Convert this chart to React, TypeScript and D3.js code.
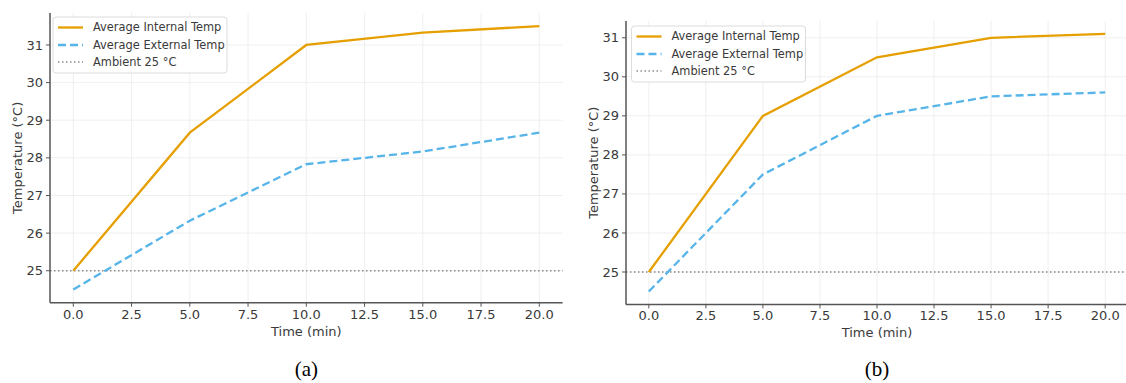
import * as d3 from "d3";

// time points (min)
const times = [0, 5, 10, 15, 20];

// panel (a)
const internalA = [25.0, 28.67, 31.0, 31.33, 31.5];
const externalA = [24.5, 26.33, 27.83, 28.17, 28.67];

// panel (b)
const internalB = [25.0, 29.0, 30.5, 31.0, 31.1];
const externalB = [24.5, 27.5, 29.0, 29.5, 29.6];

const ambient = 25;
const xTicks = [0, 2.5, 5, 7.5, 10, 12.5, 15, 17.5, 20];
const yTicks = [25, 26, 27, 28, 29, 30, 31];
const legendLabels = ["Average Internal Temp", "Average External Temp", "Ambient 25 °C"];

const ORANGE = "#E69F00";
const BLUE = "#56B4E9";
const FONT = "DejaVu Sans, sans-serif";

type PanelProps = {
  left: number;
  top: number;
  width: number;
  height: number;
  internal: number[];
  external: number[];
  caption: string;
  legendDx: number;
  legendDy: number;
};

function Panel({ left, top, width, height, internal, external, caption, legendDx, legendDy }: PanelProps) {
  // matplotlib-style 5% margins
  const [xmin, xmax] = d3.extent(times) as [number, number];
  const xpad = (xmax - xmin) * 0.05;
  const [ymin, ymax] = d3.extent([...internal, ...external]) as [number, number];
  const ypad = (ymax - ymin) * 0.05;

  const x = d3.scaleLinear().domain([xmin - xpad, xmax + xpad]).range([0, width]);
  const y = d3.scaleLinear().domain([ymin - ypad, ymax + ypad]).range([height, 0]);

  const line = d3
    .line<number>()
    .x((_, i) => x(times[i]))
    .y((d) => y(d));

  const rows = [10.5, 28, 45];

  return (
    <g transform={`translate(${left},${top})`}>
      {/* grid */}
      {xTicks.map((t) => (
        <line key={`gx${t}`} x1={x(t)} x2={x(t)} y1={0} y2={height} stroke="#ebebeb" strokeWidth={0.8} />
      ))}
      {yTicks.map((t) => (
        <line key={`gy${t}`} x1={0} x2={width} y1={y(t)} y2={y(t)} stroke="#ebebeb" strokeWidth={0.8} />
      ))}

      {/* ambient */}
      <line
        x1={0}
        x2={width}
        y1={y(ambient)}
        y2={y(ambient)}
        stroke="#8a8a8a"
        strokeWidth={1.5}
        strokeDasharray="1.5,2.5"
      />

      <path d={line(external) || ""} fill="none" stroke={BLUE} strokeWidth={2.3} strokeDasharray="8,4" />
      <path d={line(internal) || ""} fill="none" stroke={ORANGE} strokeWidth={2.3} />

      {/* spines */}
      <line x1={0} x2={0} y1={0} y2={height} stroke="#555" strokeWidth={1.5} />
      <line x1={0} x2={width} y1={height} y2={height} stroke="#555" strokeWidth={1.5} />

      {/* y ticks */}
      {yTicks.map((t) => (
        <g key={`yt${t}`} transform={`translate(0,${y(t)})`}>
          <line x1={-4} x2={0} stroke="#555" strokeWidth={1} />
          <text x={-7} dy="0.35em" textAnchor="end" fontSize={13} fill="#3a3a3a" fontFamily={FONT}>
            {t}
          </text>
        </g>
      ))}

      {/* x ticks */}
      {xTicks.map((t) => (
        <g key={`xt${t}`} transform={`translate(${x(t)},${height})`}>
          <line y1={0} y2={4} stroke="#555" strokeWidth={1} />
          <text y={16} textAnchor="middle" fontSize={13} fill="#3a3a3a" fontFamily={FONT}>
            {t.toFixed(1)}
          </text>
        </g>
      ))}

      <text x={width / 2} y={height + 33} textAnchor="middle" fontSize={13} fill="#3a3a3a" fontFamily={FONT}>
        Time (min)
      </text>
      <text
        transform={`translate(-33,${height / 2}) rotate(-90)`}
        textAnchor="middle"
        dy="0.35em"
        fontSize={13}
        fill="#3a3a3a"
        fontFamily={FONT}
      >
        Temperature (°C)
      </text>

      {/* legend */}
      <g transform={`translate(${legendDx},${legendDy})`}>
        <rect width={174} height={56} rx={3} fill="#fff" fillOpacity={0.85} stroke="#dcdcdc" strokeWidth={1} />
        <line x1={5} x2={30} y1={rows[0]} y2={rows[0]} stroke={ORANGE} strokeWidth={2.3} />
        <line x1={5} x2={30} y1={rows[1]} y2={rows[1]} stroke={BLUE} strokeWidth={2.3} strokeDasharray="8,4" />
        <line x1={5} x2={30} y1={rows[2]} y2={rows[2]} stroke="#8a8a8a" strokeWidth={1.5} strokeDasharray="1.5,2.5" />
        {legendLabels.map((lab, i) => (
          <text key={lab} x={40} y={rows[i]} dy="0.35em" fontSize={11.4} fill="#3a3a3a" fontFamily={FONT}>
            {lab}
          </text>
        ))}
      </g>

      {/* caption */}
      <text
        x={width / 2}
        y={Math.min(height + 74, 376 - top)}
        textAnchor="middle"
        fontSize={21}
        fill="#000"
        fontFamily="Liberation Serif, Times New Roman, serif"
      >
        {caption}
      </text>
    </g>
  );
}

export default function App() {
  return (
    <svg
      width={1126}
      height={383}
      style={{ position: "absolute", left: 0, top: 0, background: "#fff" }}
    >
      <rect width={1126} height={383} fill="#fff" />
      <Panel
        left={50}
        top={13}
        width={512.6}
        height={289.7}
        internal={internalA}
        external={externalA}
        caption="(a)"
        legendDx={3}
        legendDy={4}
      />
      <Panel
        left={626}
        top={21}
        width={502}
        height={283.4}
        internal={internalB}
        external={externalB}
        caption="(b)"
        legendDx={5.5}
        legendDy={5}
      />
    </svg>
  );
}
